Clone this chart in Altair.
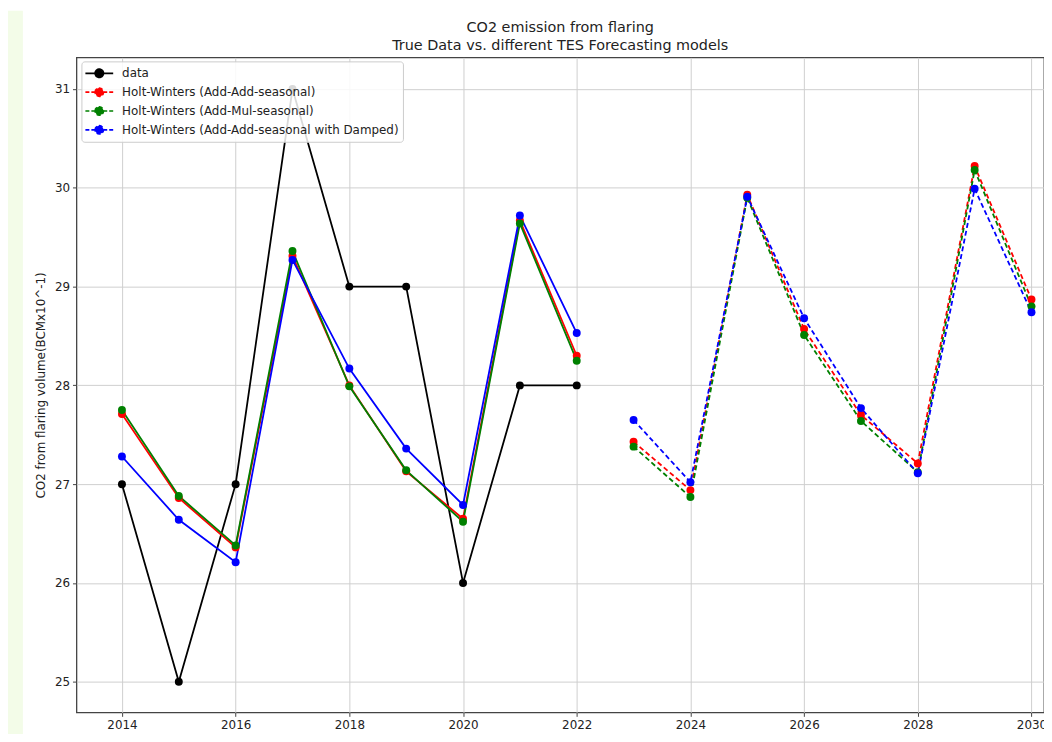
import altair as alt
import pandas as pd

years_fit = [2014, 2015, 2016, 2017, 2018, 2019, 2020, 2021, 2022]
years_fc = [2023, 2024, 2025, 2026, 2027, 2028, 2029, 2030]

data_vals = [27, 25, 27, 31, 29, 29, 26, 28, 28]
aa_fit = [27.71, 26.86, 26.36, 29.31, 28.00, 27.13, 26.65, 29.67, 28.30]
am_fit = [27.75, 26.88, 26.38, 29.36, 27.99, 27.14, 26.62, 29.64, 28.25]
aad_fit = [27.28, 26.64, 26.21, 29.27, 28.17, 27.36, 26.79, 29.72, 28.53]
aa_fc = [27.43, 26.94, 29.93, 28.57, 27.70, 27.21, 30.22, 28.87]
am_fc = [27.38, 26.87, 29.90, 28.51, 27.64, 27.12, 30.18, 28.80]
aad_fc = [27.65, 27.02, 29.91, 28.68, 27.77, 27.11, 29.99, 28.74]

series_names = [
    "data",
    "Holt-Winters (Add-Add-seasonal)",
    "Holt-Winters (Add-Mul-seasonal)",
    "Holt-Winters (Add-Add-seasonal with Damped)",
]
series_colors = ["#000000", "#ff0000", "#008000", "#0000ff"]
series_dashes = [[1, 0], [4, 2], [4, 2], [4, 2]]

x_ticks = [2014, 2016, 2018, 2020, 2022, 2024, 2026, 2028, 2030]
y_ticks = [25, 26, 27, 28, 29, 30, 31]

rows = []
for name, fit, fc in [
    (series_names[0], data_vals, None),
    (series_names[1], aa_fit, aa_fc),
    (series_names[2], am_fit, am_fc),
    (series_names[3], aad_fit, aad_fc),
]:
    for yr, v in zip(years_fit, fit):
        rows.append({"year": yr, "value": v, "series": name, "segment": "fit"})
    if fc is not None:
        for yr, v in zip(years_fc, fc):
            rows.append({"year": yr, "value": v, "series": name, "segment": "forecast"})
df = pd.DataFrame(rows)

FONT = "DejaVu Sans"

sym_path = "M-2,0L2,0M-0.6,0A0.6,0.6,0,1,1,0.6,0A0.6,0.6,0,1,1,-0.6,0Z"

legend = alt.Legend(
    title=None,
    orient="none",
    legendX=5,
    legendY=4,
    fillColor="rgba(255,255,255,0.85)",
    strokeColor="#cccccc",
    cornerRadius=3,
    padding=4,
    labelFont=FONT,
    labelFontSize=12,
    labelColor="#222222",
    labelLimit=500,
    symbolType=sym_path,
    symbolSize=196,
    symbolStrokeWidth=1.7,
    rowPadding=3,
    labelOffset=15,
    symbolOffset=6,
)

color = alt.Color(
    "series:N",
    scale=alt.Scale(domain=series_names, range=series_colors),
    legend=legend,
)
dash = alt.StrokeDash(
    "series:N",
    scale=alt.Scale(domain=series_names, range=series_dashes),
    legend=legend,
)

x_enc = alt.X(
    "year:Q",
    scale=alt.Scale(domain=[2013.2, 2030.22], nice=False, zero=False),
    axis=alt.Axis(values=x_ticks, format="d", title="Year", titlePadding=4),
)
y_enc = alt.Y(
    "value:Q",
    scale=alt.Scale(domain=[24.69, 31.32], nice=False, zero=False),
    axis=alt.Axis(values=y_ticks, format="d",
                  title="CO2 from flaring volume(BCMx10^-1)", titlePadding=7),
)

base = alt.Chart(df).encode(x=x_enc, y=y_enc, color=color,
                            order=alt.Order("year:Q"))

strip = alt.Chart(pd.DataFrame({"a": [0]})).mark_rect(
    color="#f3fce8", clip=False
).encode(x=alt.value(-69), x2=alt.value(-54), y=alt.value(-47), y2=alt.value(690))

legend_layer = base.transform_filter(alt.datum.year > 3000).mark_line(
    strokeWidth=1.7, point=alt.OverlayMarkDef(filled=True, size=60)
).encode(strokeDash=dash)

fit_lines = base.transform_filter(alt.datum.segment == "fit").mark_line(strokeWidth=1.8)
fc_lines = base.transform_filter(alt.datum.segment == "forecast").mark_line(
    strokeWidth=1.8, strokeDash=[5, 3]
)
points = base.mark_point(filled=True, size=64, opacity=1)

chart = (
    alt.layer(strip, legend_layer, fit_lines, fc_lines, points)
    .properties(
        width=975,
        height=660,
        autosize=alt.AutoSizeParams(type="none"),
        padding={"left": 69, "top": 47, "right": 0, "bottom": 19},
        background="white",
        title=alt.TitleParams(
            ["CO2 emission from flaring", "True Data vs. different TES Forecasting models"],
            font=FONT,
            fontSize=14.5,
            fontWeight="normal",
            color="#222222",
            anchor="middle",
            frame="group",
            lineHeight=18,
            offset=5,
            dy=48,
        ),
    )
    .configure_view(stroke="#444444", strokeWidth=1.3)
    .configure_axis(
        domain=False,
        grid=True,
        gridColor="#cfcfcf",
        gridWidth=1,
        tickColor="#444444",
        tickSize=4,
        tickWidth=1,
        labelFont=FONT,
        labelFontSize=12,
        labelColor="#222222",
        labelPadding=3,
        titleFont=FONT,
        titleFontSize=12,
        titleFontWeight="normal",
        titleColor="#222222",
    )
)

chart.save("out.html", embed_options={"renderer": "svg", "actions": False})
